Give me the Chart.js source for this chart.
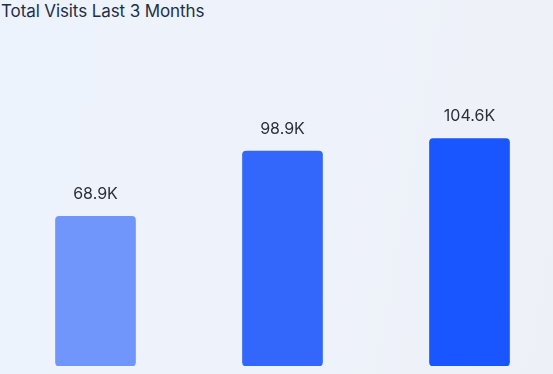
<!DOCTYPE html>
<html>
<head>
<meta charset="utf-8">
<script src="https://cdn.jsdelivr.net/npm/chart.js@4/dist/chart.umd.min.js"></script>
<style>
  html, body { margin: 0; padding: 0; overflow: hidden; width: 553px; height: 374px; }
  body { background: linear-gradient(100deg, #edf3fc 0%, #eef2fa 60%, #edf0f7 100%); position: relative; font-family: Inter, "Noto Sans", sans-serif; }
  #title { position: absolute; left: 1px; top: 1px; font-size: 17px; color: #1e2f48; font-family: Inter, "Noto Sans", sans-serif; letter-spacing: -0.1px; }
  #wrap { position: absolute; left: 0; top: 0; width: 565px; height: 374px; }
</style>
</head>
<body>
<div id="title">Total Visits Last 3 Months</div>
<div id="wrap"><canvas id="c"></canvas></div>
<script>
const categories = ["Month 1", "Month 2", "Month 3"];
const visits = [68900, 98900, 104600];
const valueLabels = ["68.9K", "98.9K", "104.6K"];
const barColors = ["#7096fc", "#3366fb", "#1a56ff"];

const labelPlugin = {
  id: 'valueLabels',
  afterDatasetsDraw(chart) {
    const ctx = chart.ctx;
    const meta = chart.getDatasetMeta(0);
    ctx.save();
    ctx.font = '16px Inter, "Noto Sans", sans-serif';
    ctx.fillStyle = '#2b2f38';
    ctx.textAlign = 'center';
    ctx.textBaseline = 'middle';
    meta.data.forEach((bar, i) => {
      ctx.fillText(valueLabels[i], bar.x, bar.y - 22);
    });
    ctx.restore();
  }
};

new Chart(document.getElementById('c'), {
  type: 'bar',
  data: {
    labels: categories,
    datasets: [{
      data: visits,
      backgroundColor: barColors,
      borderRadius: 4,
      borderSkipped: false,
      barThickness: 80
    }]
  },
  options: {
    responsive: true,
    maintainAspectRatio: false,
    animation: false,
    layout: { padding: { left: 2, right: 2, top: 40, bottom: 8 } },
    plugins: { legend: { display: false }, tooltip: { enabled: false } },
    scales: {
      x: { display: false, offset: true },
      y: { display: false, min: 0, max: 150000 }
    }
  },
  plugins: [labelPlugin]
});
</script>
</body>
</html>
